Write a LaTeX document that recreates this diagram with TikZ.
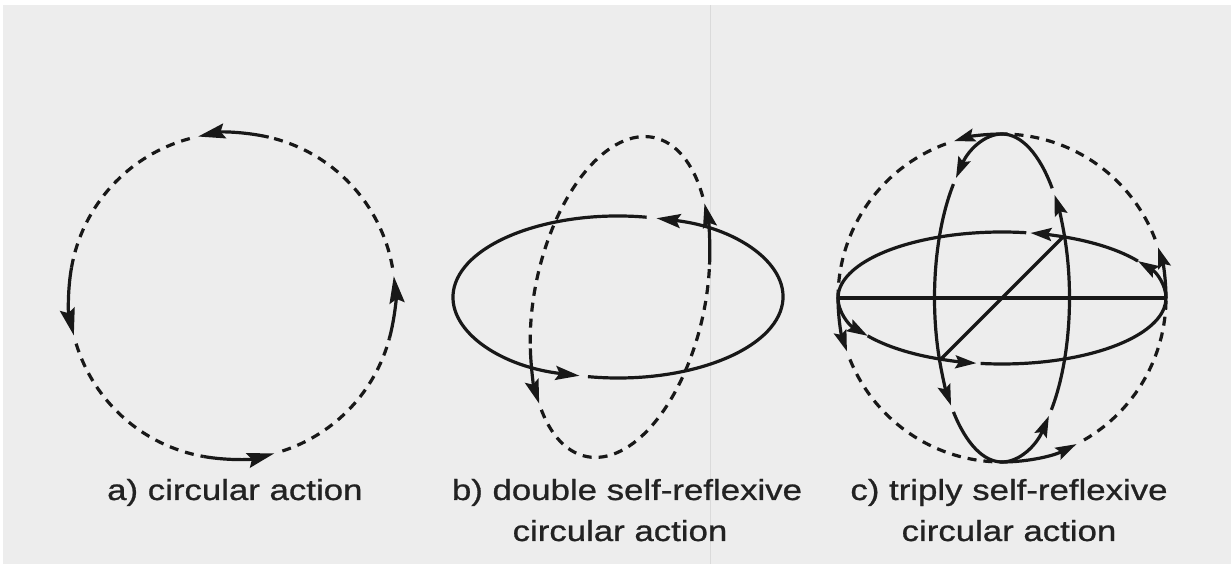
\documentclass[tikz,border=0pt]{standalone}
\usepackage{fontspec}
\newfontfamily\labfont[FakeStretch=1.2,FakeBold=0.9]{Liberation Sans}
\usetikzlibrary{arrows.meta}
\definecolor{ink}{HTML}{181818}
\definecolor{txt}{HTML}{222222}
\definecolor{paper}{HTML}{EDEDED}
\definecolor{fold}{HTML}{DADADA}
\newcommand\ellarc[6]{\draw[#1] ([shift={#2}]#3:#5pt and #6pt) arc[start angle=#3, end angle=#4, x radius=#5pt, y radius=#6pt];}
\tikzset{
  ln/.style={line width=3.2pt, draw=ink},
  dsh/.style={ln, dash pattern=on 9pt off 7pt},
  arA/.style={ln, -{Stealth[length=27pt,width=15pt,inset=4pt]}},
  arB/.style={ln, -{Stealth[length=24pt,width=14pt,inset=4pt]}},
  arC/.style={ln, -{Stealth[length=21pt,width=13pt,inset=3.5pt]}},
  lbl/.style={text=txt, inner sep=0pt, font=\labfont\fontsize{29}{36}\selectfont}
}
\begin{document}
\begin{tikzpicture}[x=1pt,y=1pt]
\useasboundingbox (0,0) rectangle (1231,564);
\fill[paper] (0,0) rectangle (1231,564);
\fill[white] (0,559) rectangle (1231,564);
\fill[white] (0,0) rectangle (3,564);
\draw[fold, line width=1pt] (710,0) -- (710,559);

% ---------- a) circular action ----------
\ellarc{arA}{(232,268)}{77}{102}{163}{163}
\ellarc{arA}{(232,268)}{170}{194}{163}{163}
\ellarc{arA}{(232,268)}{260}{285}{163}{163}
\ellarc{arA}{(232,268)}{345}{367}{163}{163}
\ellarc{dsh}{(232,268)}{10}{77}{163}{163}
\ellarc{dsh}{(232,268)}{105}{170}{163}{163}
\ellarc{dsh}{(232,268)}{197}{260}{163}{163}
\ellarc{dsh}{(232,268)}{288}{345}{163}{163}

% ---------- b) double self-reflexive ----------
\ellarc{arB}{(618,267)}{80}{256.5}{165}{81}
\ellarc{arB}{(618,267)}{259.5}{436.5}{165}{81}
\begin{scope}[shift={(620,267)}, rotate=-12]
  \ellarc{arB}{(0,0)}{18}{42}{85}{163}
  \ellarc{arB}{(0,0)}{205}{228}{85}{163}
  \ellarc{dsh}{(0,0)}{45}{205}{85}{163}
  \ellarc{dsh}{(0,0)}{231}{378}{85}{163}
\end{scope}

% ---------- c) triply self-reflexive ----------
% outer circle
\ellarc{arC}{(1002,266)}{0}{18}{164}{164}
\ellarc{arC}{(1002,266)}{90}{107}{164}{164}
\ellarc{arC}{(1002,266)}{180}{199}{164}{164}
\ellarc{arC}{(1002,266)}{270}{297}{164}{164}
\ellarc{dsh}{(1002,266)}{21}{90}{164}{164}
\ellarc{dsh}{(1002,266)}{110}{180}{164}{164}
\ellarc{dsh}{(1002,266)}{202}{270}{164}{164}
\ellarc{dsh}{(1002,266)}{300}{360}{164}{164}
% horizontal ellipse
\ellarc{arC}{(1002,266)}{0}{34}{164}{66}
\ellarc{arC}{(1002,266)}{68}{80}{164}{66}
\ellarc{arC}{(1002,266)}{180}{215}{164}{66}
\ellarc{arC}{(1002,266)}{248}{261}{164}{66}
\ellarc{ln}{(1002,266)}{34}{68}{164}{66}
\ellarc{ln}{(1002,266)}{81.5}{180}{164}{66}
\ellarc{ln}{(1002,266)}{215}{248}{164}{66}
\ellarc{ln}{(1002,266)}{262.5}{360}{164}{66}
% vertical ellipse
\ellarc{arC}{(1002,266)}{90}{133}{67.5}{164}
\ellarc{arC}{(1002,266)}{22}{39}{67.5}{164}
\ellarc{arC}{(1002,266)}{270}{314}{67.5}{164}
\ellarc{arC}{(1002,266)}{202}{221}{67.5}{164}
\ellarc{ln}{(1002,266)}{136}{202}{67.5}{164}
\ellarc{ln}{(1002,266)}{224}{270}{67.5}{164}
\ellarc{ln}{(1002,266)}{317}{382}{67.5}{164}
\ellarc{ln}{(1002,266)}{42}{90}{67.5}{164}
% diameters
\coordinate (cL) at (838,266);
\coordinate (cR) at (1166,266);
\coordinate (p1) at (1063,327);
\coordinate (p2) at (941,205);
\draw[ln] (cL) -- (cR);
\draw[ln] (p1) -- (p2);

% ---------- labels ----------
\node[lbl, anchor=base west] (la) at (107,64) {a) circular action};
\node[lbl, anchor=base] (lb1) at (627,64) {b) double self-reflexive};
\node[lbl, anchor=base] (lb2) at (620,23) {circular action};
\node[lbl, anchor=base] (lc1) at (1009,64) {c) triply self-reflexive};
\node[lbl, anchor=base] (lc2) at (1009,23) {circular action};
\end{tikzpicture}
\end{document}
